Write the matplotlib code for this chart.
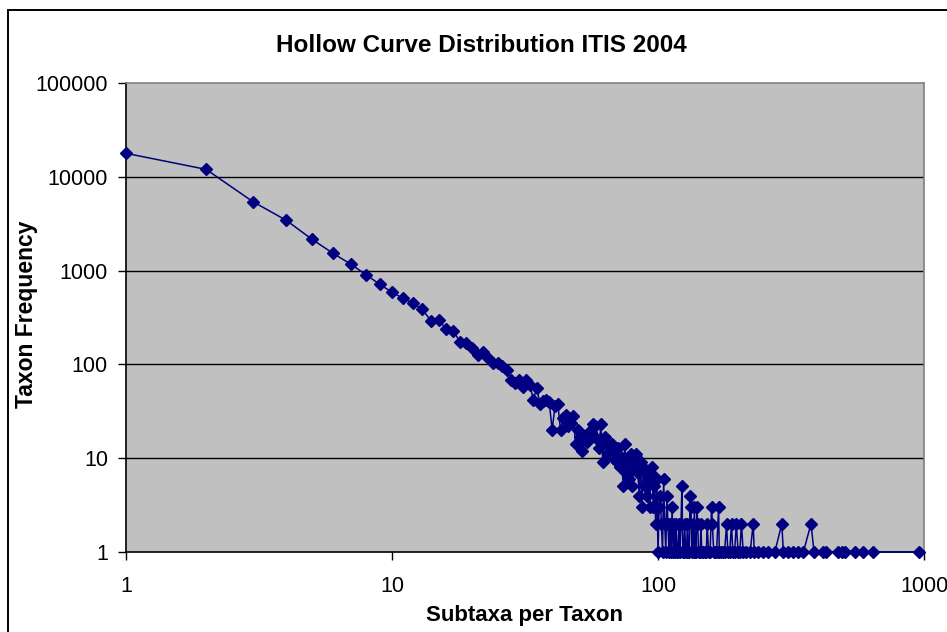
import matplotlib
matplotlib.use("Agg")
import matplotlib.pyplot as plt
from matplotlib.patches import Rectangle
from matplotlib.ticker import FixedLocator, NullLocator, FixedFormatter

# Subtaxa per taxon (x) and number of taxa with that many subtaxa (y)
subtaxa = [
    1, 2, 3, 4, 5, 6, 7, 8, 9, 10,
    11, 12, 13, 14, 15, 16, 17, 18, 19, 20,
    21, 22, 23, 24, 25, 26, 27, 28, 29, 30,
    31, 32, 33, 34, 35, 36, 37, 38, 39, 40,
    41, 42, 43, 44, 45, 46, 47, 48, 49, 50,
    51, 52, 53, 54, 55, 56, 57, 58, 59, 60,
    61, 62, 63, 64, 65, 66, 67, 68, 69, 70,
    71, 72, 73, 74, 75, 76, 77, 78, 79, 80,
    81, 82, 83, 84, 85, 86, 87, 88, 89, 90,
    91, 92, 93, 94, 95, 96, 97, 98, 99, 100,
    101, 102, 103, 104, 105, 106, 107, 108, 109, 110,
    111, 112, 113, 114, 115, 116, 117, 118, 119, 120,
    121, 122, 123, 124, 125, 126, 127, 128, 129, 130,
    131, 132, 133, 134, 135, 136, 137, 138, 139, 140,
    141, 142, 144, 145, 146, 148, 150, 152, 153, 155,
    157, 159, 160, 162, 164, 166, 169, 170, 172, 175,
    178, 181, 183, 186, 189, 191, 194, 197, 200, 203,
    206, 209, 214, 222, 228, 230, 238, 249, 260, 275,
    292, 296, 309, 323, 337, 352, 376, 386, 418, 428,
    477, 491, 505, 551, 591, 645, 958,
]
frequency = [
    17800, 12000, 5430, 3440, 2160, 1530, 1170, 900, 714, 587,
    507, 448, 387, 292, 297, 237, 227, 175, 168, 151,
    126, 137, 116, 103, 103, 95, 87, 69, 63, 68,
    58, 69, 60, 42, 56, 38, 41, 42, 40, 20,
    36, 38, 20, 27, 29, 22, 24, 28, 14, 20,
    17, 12, 17, 15, 19, 19, 23, 22, 16, 13,
    23, 9, 17, 15, 11, 12, 14, 10, 12, 9,
    13, 8, 10, 5, 14, 7, 9, 6, 11, 5,
    8, 10, 11, 7, 4, 9, 3, 8, 5, 7,
    4, 6, 3, 7, 8, 3, 5, 2, 6, 1,
    3, 4, 2, 1, 6, 2, 1, 4, 2, 1,
    2, 1, 3, 1, 2, 1, 2, 1, 1, 2,
    1, 2, 5, 1, 1, 2, 1, 1, 2, 1,
    1, 4, 3, 1, 2, 1, 3, 1, 1, 3,
    2, 1, 1, 2, 1, 1, 1, 1, 2, 1,
    1, 3, 2, 1, 1, 1, 3, 1, 1, 1,
    1, 2, 1, 1, 2, 1, 1, 2, 1, 1,
    2, 1, 1, 1, 2, 1, 1, 1, 1, 1,
    2, 1, 1, 1, 1, 1, 2, 1, 1, 1,
    1, 1, 1, 1, 1, 1, 1,
]

x_ticks = [1, 10, 100, 1000]
x_labels = ["1", "10", "100", "1000"]
y_ticks = [1, 10, 100, 1000, 10000, 100000]
y_labels = ["1", "10", "100", "1000", "10000", "100000"]

W, H = 947, 632
fig = plt.figure(figsize=(W / 100, H / 100), dpi=100)
fig.patch.set_facecolor("white")
plt.rcParams["font.family"] = ["Liberation Sans", "DejaVu Sans"]

# chart frame (runs off the right and bottom edges)
fig.patches.append(Rectangle((8 / W, -0.05), 1.2, 1 - 10 / H + 0.05,
                             transform=fig.transFigure, fill=False,
                             edgecolor="black", linewidth=1.4, zorder=0))

ax = fig.add_axes([126 / W, 1 - 552 / H, (924 - 126) / W, (552 - 83) / H])
ax.set_facecolor("#C0C0C0")
ax.set_xscale("log")
ax.set_yscale("log")
ax.set_xlim(1, 1000)
ax.set_ylim(1, 100000)

for y in y_ticks[1:-1]:
    ax.axhline(y, color="black", linewidth=1.0, zorder=1)

ax.plot(subtaxa, frequency, color="#000080", linewidth=1.1,
        marker="D", markersize=6.5, markerfacecolor="#000080",
        markeredgecolor="#000080", zorder=3, clip_on=False)

ax.xaxis.set_major_locator(FixedLocator(x_ticks))
ax.xaxis.set_major_formatter(FixedFormatter(x_labels))
ax.xaxis.set_minor_locator(NullLocator())
ax.yaxis.set_major_locator(FixedLocator(y_ticks))
ax.yaxis.set_major_formatter(FixedFormatter(y_labels))
ax.yaxis.set_minor_locator(NullLocator())
ax.tick_params(axis="both", direction="out", length=6, width=1,
               color="black", labelsize=15.5, pad=7)
ax.tick_params(axis="x", pad=11)

for side in ("top", "right"):
    ax.spines[side].set_color("#808080")
    ax.spines[side].set_linewidth(1.2)
for side in ("left", "bottom"):
    ax.spines[side].set_color("black")
    ax.spines[side].set_linewidth(1.2)

fig.text(481 / W, 1 - 46 / H, "Hollow Curve Distribution ITIS 2004",
         ha="center", va="center", fontsize=17.5, fontweight="bold")
fig.text(524 / W, 1 - 616 / H, "Subtaxa per Taxon",
         ha="center", va="center", fontsize=16, fontweight="bold")
fig.text(27 / W, 1 - 314 / H, "Taxon Frequency", rotation=90,
         ha="center", va="center", fontsize=16.5, fontweight="bold")

fig.savefig("out.png", dpi=100)
